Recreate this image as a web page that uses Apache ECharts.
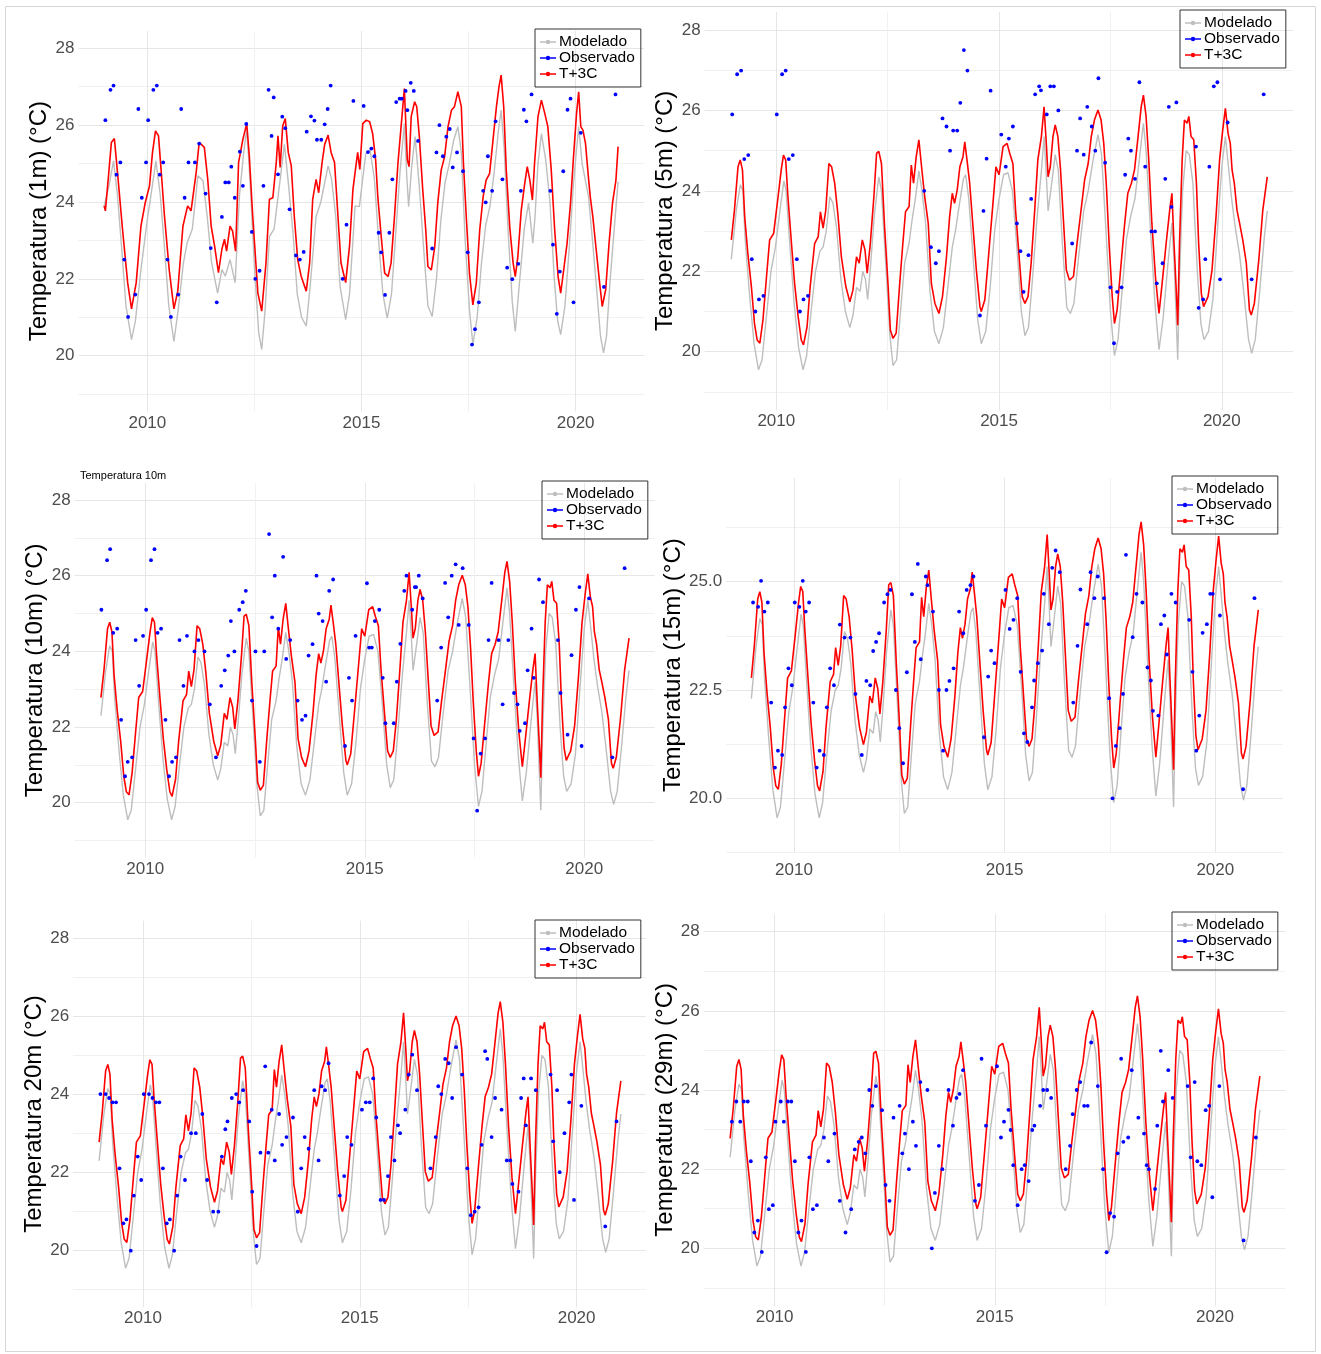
<!DOCTYPE html>
<html><head><meta charset="utf-8">
<script src="https://cdn.jsdelivr.net/npm/echarts@6/dist/echarts.min.js"></script>
<style>html,body{margin:0;padding:0;background:#fff}#c{width:1321px;height:1354px}</style>
</head><body><div id="c"></div>
<script>
// ---------- tick labels ----------
const xTickLabels = [2010, 2015, 2020];
const yTickLabels = [20, 22, 24, 26, 28];
const yTickLabels15 = [20, 22.5, 25];
const seriesNames = ['Modelado', 'Observado', 'T+3C'];

// ---------- 1 m ----------
const model1m = [[2008.99,23.9],[2009.1,24.4],[2009.21,25.07],[2009.3,24.2],[2009.4,22.8],[2009.5,21.3],[2009.63,20.42],[2009.72,20.9],[2009.85,22.24],[2010.0,23.55],[2010.1,24.3],[2010.2,25.07],[2010.3,24.2],[2010.4,22.8],[2010.5,21.3],[2010.62,20.37],[2010.72,21.2],[2010.84,22.4],[2010.93,22.94],[2011.05,23.3],[2011.18,24.68],[2011.3,24.55],[2011.4,23.6],[2011.5,22.42],[2011.64,21.63],[2011.74,22.24],[2011.82,22.07],[2011.93,22.5],[2012.05,21.9],[2012.15,24.16],[2012.25,25.3],[2012.32,25.9],[2012.4,24.5],[2012.5,22.3],[2012.6,20.6],[2012.67,20.16],[2012.75,21.2],[2012.85,23.1],[2012.96,23.3],[2013.08,24.4],[2013.2,25.5],[2013.3,24.4],[2013.4,23.2],[2013.5,21.6],[2013.6,21.0],[2013.71,20.77],[2013.8,21.8],[2013.94,23.63],[2014.05,24.0],[2014.22,24.94],[2014.3,24.6],[2014.4,23.6],[2014.5,21.8],[2014.63,20.94],[2014.72,21.6],[2014.85,23.9],[2014.95,23.88],[2015.1,25.26],[2015.2,25.35],[2015.3,24.6],[2015.4,23.0],[2015.5,21.6],[2015.6,20.98],[2015.7,21.6],[2015.8,23.2],[2015.9,24.8],[2016.0,26.04],[2016.06,24.6],[2016.1,23.88],[2016.17,24.9],[2016.25,25.7],[2016.35,24.4],[2016.45,22.8],[2016.55,21.3],[2016.65,21.02],[2016.75,22.0],[2016.85,23.5],[2016.95,24.5],[2017.05,25.0],[2017.15,25.6],[2017.25,25.96],[2017.33,25.3],[2017.42,23.0],[2017.52,21.2],[2017.6,20.29],[2017.7,21.0],[2017.8,22.4],[2017.9,23.4],[2018.0,23.9],[2018.1,24.8],[2018.2,25.9],[2018.26,26.39],[2018.33,25.4],[2018.42,23.3],[2018.52,21.4],[2018.59,20.63],[2018.68,21.8],[2018.8,23.3],[2018.9,23.97],[2019.0,22.93],[2019.05,23.6],[2019.12,25.0],[2019.2,25.78],[2019.3,25.1],[2019.4,24.0],[2019.5,22.0],[2019.58,20.9],[2019.65,20.55],[2019.75,21.3],[2019.85,22.8],[2019.95,24.5],[2020.07,25.96],[2020.15,25.0],[2020.3,24.14],[2020.4,22.9],[2020.5,21.6],[2020.58,20.5],[2020.65,20.07],[2020.72,20.5],[2020.8,21.9],[2020.9,23.3],[2020.99,24.53]];
const t3c1m = [[2008.99,23.9],[2009.02,23.77],[2009.1,24.77],[2009.16,25.55],[2009.23,25.65],[2009.31,24.68],[2009.42,23.29],[2009.54,21.9],[2009.63,21.22],[2009.74,21.9],[2009.85,23.37],[2009.95,23.98],[2010.05,24.42],[2010.12,25.29],[2010.19,25.85],[2010.26,25.72],[2010.32,24.85],[2010.4,23.63],[2010.51,22.24],[2010.62,21.22],[2010.71,21.68],[2010.83,23.37],[2010.94,23.9],[2011.02,23.77],[2011.14,24.77],[2011.21,25.55],[2011.33,25.42],[2011.41,24.59],[2011.49,23.37],[2011.57,22.85],[2011.66,22.16],[2011.74,22.77],[2011.8,23.03],[2011.85,22.72],[2011.93,23.37],[2011.99,23.24],[2012.06,22.72],[2012.13,25.03],[2012.23,25.63],[2012.32,26.04],[2012.38,25.2],[2012.46,23.63],[2012.58,21.63],[2012.67,21.16],[2012.77,22.42],[2012.85,24.07],[2012.93,24.11],[2013.01,25.03],[2013.05,25.72],[2013.1,24.9],[2013.16,25.98],[2013.22,26.17],[2013.29,25.29],[2013.36,24.94],[2013.43,23.63],[2013.51,22.5],[2013.59,22.07],[2013.71,21.68],[2013.79,22.42],[2013.86,24.07],[2013.94,24.59],[2014.0,24.24],[2014.08,25.03],[2014.14,25.5],[2014.22,25.74],[2014.29,25.29],[2014.37,25.03],[2014.45,23.63],[2014.52,22.42],[2014.63,21.9],[2014.72,22.85],[2014.8,24.33],[2014.91,25.29],[2014.96,24.85],[2015.03,26.04],[2015.11,26.13],[2015.19,26.09],[2015.26,25.78],[2015.33,25.09],[2015.38,24.14],[2015.46,23.1],[2015.54,22.15],[2015.62,22.06],[2015.69,22.41],[2015.77,23.62],[2015.85,25.0],[2015.93,26.04],[2016.0,26.95],[2016.07,25.09],[2016.11,24.92],[2016.16,26.22],[2016.24,26.61],[2016.29,26.48],[2016.35,25.7],[2016.43,24.31],[2016.5,23.27],[2016.55,22.32],[2016.63,22.23],[2016.71,22.84],[2016.78,23.97],[2016.86,24.83],[2016.94,25.18],[2017.02,25.96],[2017.1,26.39],[2017.17,26.48],[2017.25,26.87],[2017.33,26.48],[2017.38,25.0],[2017.45,23.53],[2017.52,22.15],[2017.6,21.32],[2017.68,21.89],[2017.76,23.27],[2017.84,24.14],[2017.91,24.57],[2017.99,24.74],[2018.07,25.61],[2018.15,26.48],[2018.21,27.0],[2018.26,27.3],[2018.32,26.48],[2018.38,24.83],[2018.46,23.36],[2018.54,22.41],[2018.59,22.06],[2018.65,22.58],[2018.73,23.79],[2018.81,24.48],[2018.87,24.92],[2018.93,24.57],[2018.99,24.05],[2019.04,25.0],[2019.12,26.22],[2019.2,26.65],[2019.28,26.3],[2019.35,25.96],[2019.43,24.83],[2019.51,23.27],[2019.59,22.06],[2019.65,21.63],[2019.72,22.23],[2019.8,22.93],[2019.88,23.97],[2019.95,25.18],[2020.02,26.3],[2020.07,26.87],[2020.12,25.96],[2020.17,25.87],[2020.23,25.52],[2020.29,24.74],[2020.34,24.14],[2020.4,23.62],[2020.48,22.75],[2020.56,21.89],[2020.62,21.28],[2020.7,21.71],[2020.78,22.93],[2020.86,23.97],[2020.94,24.57],[2020.99,25.44]];
const obs1m = [[2009.02,26.13],[2009.14,26.92],[2009.21,27.03],[2009.28,24.71],[2009.37,25.03],[2009.46,22.5],[2009.55,21.01],[2009.72,21.59],[2009.79,26.42],[2009.87,24.11],[2009.97,25.03],[2010.02,26.13],[2010.14,26.92],[2010.22,27.03],[2010.29,24.71],[2010.37,25.03],[2010.47,22.5],[2010.55,21.01],[2010.72,21.59],[2010.79,26.42],[2010.87,24.11],[2010.96,25.03],[2011.11,25.03],[2011.21,25.52],[2011.36,24.22],[2011.48,22.8],[2011.62,21.39],[2011.74,23.61],[2011.82,24.51],[2011.9,24.51],[2011.96,24.92],[2012.04,24.11],[2012.16,25.31],[2012.23,24.42],[2012.31,26.03],[2012.44,23.22],[2012.52,22.0],[2012.62,22.21],[2012.71,24.42],[2012.83,26.92],[2012.9,25.72],[2012.95,26.72],[2013.05,24.72],[2013.15,26.22],[2013.22,25.92],[2013.32,23.81],[2013.47,22.61],[2013.56,22.5],[2013.65,22.7],[2013.72,25.83],[2013.82,26.23],[2013.9,26.12],[2013.96,25.62],[2014.06,25.62],[2014.14,26.02],[2014.21,26.42],[2014.28,27.03],[2014.56,22.0],[2014.65,23.41],[2014.81,26.63],[2015.05,26.5],[2015.15,25.3],[2015.23,25.39],[2015.3,25.19],[2015.4,23.2],[2015.46,22.69],[2015.55,21.58],[2015.65,23.2],[2015.72,24.59],[2015.81,26.6],[2015.89,26.69],[2015.94,26.69],[2016.03,26.89],[2016.07,26.39],[2016.15,27.1],[2016.22,26.89],[2016.32,25.59],[2016.65,22.79],[2016.75,25.29],[2016.82,26.0],[2016.9,25.19],[2016.98,25.7],[2017.06,25.9],[2017.13,24.9],[2017.23,25.29],[2017.37,24.8],[2017.48,22.69],[2017.58,20.29],[2017.65,20.69],[2017.74,21.39],[2017.84,24.29],[2017.9,23.99],[2017.95,25.19],[2018.05,24.29],[2018.13,26.1],[2018.29,24.59],[2018.4,22.29],[2018.52,21.99],[2018.66,22.39],[2018.72,24.29],[2018.79,26.4],[2018.85,26.1],[2018.97,26.8],[2019.41,24.29],[2019.47,22.89],[2019.56,21.09],[2019.63,22.19],[2019.71,24.8],[2019.81,26.4],[2019.88,26.69],[2019.95,21.39],[2020.12,25.8],[2020.66,21.79],[2020.93,26.8]];

// ---------- deeper layers (5m - 29m share nearly identical model curves) ----------
const modelDeep = [[2008.99,22.3],[2009.1,23.5],[2009.19,24.15],[2009.25,24.0],[2009.3,22.8],[2009.4,21.4],[2009.5,20.2],[2009.6,19.55],[2009.68,19.8],[2009.78,20.9],[2009.88,22.0],[2009.98,22.6],[2010.08,23.5],[2010.17,24.25],[2010.22,24.0],[2010.3,22.7],[2010.4,21.2],[2010.5,20.1],[2010.6,19.55],[2010.68,19.9],[2010.78,21.0],[2010.88,22.0],[2010.98,22.5],[2011.05,22.6],[2011.12,23.0],[2011.2,23.85],[2011.27,23.7],[2011.35,23.1],[2011.45,21.8],[2011.55,21.0],[2011.65,20.6],[2011.72,20.9],[2011.8,21.6],[2011.88,21.5],[2011.94,22.0],[2012.0,21.8],[2012.05,21.3],[2012.12,22.2],[2012.2,23.4],[2012.3,24.35],[2012.36,24.0],[2012.45,22.3],[2012.55,20.4],[2012.62,19.65],[2012.7,19.8],[2012.78,20.9],[2012.88,22.2],[2012.98,22.7],[2013.05,23.3],[2013.12,23.8],[2013.2,24.5],[2013.27,24.0],[2013.35,23.2],[2013.45,21.5],[2013.55,20.5],[2013.65,20.2],[2013.75,20.6],[2013.85,21.6],[2013.95,22.6],[2014.02,23.0],[2014.1,23.6],[2014.2,24.3],[2014.25,24.4],[2014.32,23.8],[2014.42,22.3],[2014.52,20.8],[2014.6,20.2],[2014.7,20.5],[2014.8,21.6],[2014.9,23.0],[2015.0,23.8],[2015.1,24.4],[2015.2,24.45],[2015.3,24.0],[2015.4,22.6],[2015.5,21.0],[2015.58,20.4],[2015.66,20.6],[2015.75,21.8],[2015.85,23.3],[2015.95,24.5],[2016.01,25.35],[2016.06,24.4],[2016.1,23.5],[2016.16,24.0],[2016.26,24.9],[2016.33,24.5],[2016.42,22.7],[2016.52,21.1],[2016.6,20.95],[2016.68,21.2],[2016.78,22.3],[2016.9,23.5],[2017.0,24.0],[2017.1,24.7],[2017.22,25.4],[2017.3,24.9],[2017.4,23.0],[2017.5,21.0],[2017.59,19.9],[2017.67,20.3],[2017.76,21.5],[2017.86,22.8],[2017.96,23.4],[2018.05,23.8],[2018.15,24.8],[2018.24,25.68],[2018.3,25.0],[2018.4,23.0],[2018.5,21.2],[2018.59,20.05],[2018.68,20.8],[2018.8,22.3],[2018.88,23.2],[2018.93,22.2],[2018.99,20.4],[2019.01,19.8],[2019.05,21.8],[2019.12,24.0],[2019.2,25.0],[2019.27,24.9],[2019.35,24.2],[2019.45,22.0],[2019.53,20.7],[2019.6,20.3],[2019.7,20.5],[2019.8,21.3],[2019.9,23.0],[2020.0,24.6],[2020.08,25.35],[2020.15,24.6],[2020.22,23.8],[2020.3,23.1],[2020.4,22.4],[2020.5,21.4],[2020.6,20.3],[2020.67,19.96],[2020.75,20.3],[2020.85,21.5],[2020.95,22.8],[2021.02,23.5]];
const t3cDeep = [[2008.99,22.78],[2009.06,23.52],[2009.14,24.6],[2009.19,24.77],[2009.24,24.52],[2009.29,23.36],[2009.36,22.45],[2009.44,21.62],[2009.51,20.7],[2009.57,20.29],[2009.63,20.21],[2009.7,20.79],[2009.78,21.87],[2009.85,22.78],[2009.94,22.94],[2010.04,23.86],[2010.11,24.52],[2010.16,24.89],[2010.21,24.77],[2010.26,23.86],[2010.34,22.69],[2010.41,21.7],[2010.49,20.87],[2010.56,20.29],[2010.61,20.17],[2010.69,20.62],[2010.76,21.62],[2010.86,22.69],[2010.94,22.86],[2010.99,23.48],[2011.05,23.07],[2011.11,23.52],[2011.18,24.68],[2011.24,24.6],[2011.31,24.19],[2011.38,23.44],[2011.46,22.36],[2011.56,21.62],[2011.65,21.24],[2011.72,21.53],[2011.8,22.36],[2011.86,22.2],[2011.93,22.78],[2011.99,22.53],[2012.04,21.95],[2012.11,22.69],[2012.19,23.86],[2012.25,24.93],[2012.3,24.98],[2012.36,24.68],[2012.43,23.11],[2012.51,21.62],[2012.56,20.54],[2012.62,20.33],[2012.69,20.46],[2012.77,21.7],[2012.84,22.69],[2012.9,23.48],[2012.98,23.61],[2013.03,24.64],[2013.08,24.19],[2013.14,24.85],[2013.2,25.27],[2013.26,24.6],[2013.33,23.86],[2013.41,23.19],[2013.48,21.7],[2013.56,21.2],[2013.65,20.95],[2013.73,21.37],[2013.82,22.36],[2013.89,23.36],[2013.95,23.94],[2014.0,23.69],[2014.06,24.02],[2014.12,24.6],[2014.19,24.85],[2014.23,25.22],[2014.28,24.77],[2014.34,24.19],[2014.42,23.03],[2014.49,22.03],[2014.57,21.12],[2014.6,21.0],[2014.68,21.29],[2014.75,22.2],[2014.85,23.52],[2014.93,24.6],[2015.0,24.4],[2015.09,25.1],[2015.18,25.18],[2015.24,24.93],[2015.31,24.68],[2015.37,23.52],[2015.45,22.36],[2015.52,21.37],[2015.58,21.2],[2015.65,21.37],[2015.72,22.2],[2015.8,23.52],[2015.87,24.77],[2015.95,25.35],[2016.01,26.09],[2016.06,25.18],[2016.1,24.35],[2016.15,24.6],[2016.21,25.35],[2016.26,25.64],[2016.32,25.35],[2016.38,24.52],[2016.44,23.36],[2016.51,22.03],[2016.58,21.78],[2016.67,21.87],[2016.75,22.69],[2016.85,23.61],[2016.92,24.27],[2017.0,24.68],[2017.07,25.35],[2017.14,25.76],[2017.22,26.01],[2017.29,25.76],[2017.35,25.18],[2017.41,24.1],[2017.47,22.69],[2017.54,21.37],[2017.59,20.7],[2017.65,21.04],[2017.74,22.2],[2017.82,23.19],[2017.89,23.94],[2017.97,24.19],[2018.04,24.52],[2018.12,25.35],[2018.19,26.09],[2018.24,26.38],[2018.3,25.85],[2018.36,24.77],[2018.43,23.19],[2018.51,21.87],[2018.59,20.95],[2018.66,21.7],[2018.75,22.69],[2018.83,23.52],[2018.88,23.94],[2018.92,22.86],[2018.98,21.45],[2019.01,20.66],[2019.05,22.69],[2019.11,24.77],[2019.16,25.76],[2019.22,25.68],[2019.26,25.85],[2019.31,25.35],[2019.37,25.27],[2019.43,24.19],[2019.48,22.69],[2019.54,21.45],[2019.59,21.12],[2019.69,21.37],[2019.78,22.03],[2019.87,23.36],[2019.95,24.77],[2020.02,25.51],[2020.08,26.05],[2020.14,25.43],[2020.19,25.18],[2020.23,24.52],[2020.28,24.19],[2020.34,23.52],[2020.4,23.19],[2020.47,22.78],[2020.55,22.2],[2020.62,21.04],[2020.66,20.91],[2020.73,21.2],[2020.83,22.28],[2020.92,23.52],[2021.02,24.35]];

const obs5m = [[2009.01,25.9],[2009.12,26.9],[2009.21,26.99],[2009.28,24.79],[2009.37,24.89],[2009.45,22.3],[2009.53,21.0],[2009.61,21.3],[2009.71,21.39],[2010.01,25.9],[2010.13,26.9],[2010.21,26.99],[2010.28,24.79],[2010.37,24.89],[2010.46,22.3],[2010.53,21.0],[2010.61,21.3],[2010.71,21.39],[2013.32,24.0],[2013.47,22.6],[2013.58,22.2],[2013.65,22.5],[2013.73,25.8],[2013.82,25.6],[2013.9,25.0],[2013.97,25.5],[2014.06,25.5],[2014.13,26.19],[2014.21,27.5],[2014.29,26.99],[2014.57,20.9],[2014.65,23.5],[2014.72,24.8],[2014.81,26.49],[2015.05,25.4],[2015.15,24.6],[2015.22,25.3],[2015.31,25.6],[2015.4,23.19],[2015.48,22.5],[2015.55,21.49],[2015.66,22.4],[2015.72,23.8],[2015.81,26.4],[2015.9,26.6],[2015.94,26.5],[2016.07,25.9],[2016.15,26.6],[2016.23,26.6],[2016.33,26.0],[2016.64,22.69],[2016.75,25.0],[2016.82,25.8],[2016.9,24.9],[2016.98,26.09],[2017.08,25.6],[2017.16,25.0],[2017.23,26.8],[2017.38,24.7],[2017.5,21.6],[2017.58,20.21],[2017.65,21.49],[2017.75,21.6],[2017.83,24.4],[2017.9,25.3],[2017.96,25.0],[2018.05,24.3],[2018.15,26.7],[2018.28,24.6],[2018.42,22.99],[2018.5,22.99],[2018.54,21.7],[2018.67,22.2],[2018.73,24.3],[2018.81,26.09],[2018.87,23.6],[2018.98,26.2],[2019.42,25.1],[2019.48,21.09],[2019.58,21.3],[2019.63,22.3],[2019.72,24.6],[2019.82,26.6],[2019.9,26.7],[2019.96,21.8],[2020.13,25.7],[2020.67,21.8],[2020.94,26.4]];
const obs10m = [[2009.0,25.1],[2009.13,26.41],[2009.2,26.7],[2009.27,24.49],[2009.36,24.6],[2009.45,22.19],[2009.54,20.7],[2009.6,21.08],[2009.7,21.2],[2009.78,24.3],[2009.86,23.09],[2009.95,24.41],[2010.02,25.1],[2010.13,26.41],[2010.21,26.7],[2010.28,24.49],[2010.36,24.6],[2010.46,22.19],[2010.54,20.7],[2010.61,21.08],[2010.7,21.2],[2010.78,24.3],[2010.87,23.09],[2010.95,24.41],[2011.12,24.0],[2011.21,24.3],[2011.35,24.0],[2011.47,22.6],[2011.61,21.2],[2011.73,23.09],[2011.81,23.5],[2011.89,23.89],[2011.95,24.8],[2012.03,24.0],[2012.14,25.1],[2012.22,25.3],[2012.29,25.6],[2012.43,22.7],[2012.51,24.0],[2012.61,21.08],[2012.71,24.0],[2012.82,27.1],[2012.89,24.9],[2012.95,26.0],[2013.03,24.6],[2013.14,26.5],[2013.21,23.8],[2013.3,24.3],[2013.47,22.7],[2013.57,22.19],[2013.65,22.3],[2013.72,23.89],[2013.81,24.19],[2013.9,26.0],[2013.95,25.0],[2014.04,24.8],[2014.12,23.2],[2014.19,25.6],[2014.28,25.9],[2014.55,21.5],[2014.64,23.3],[2014.71,22.7],[2014.79,24.41],[2015.05,25.8],[2015.1,24.1],[2015.16,24.1],[2015.23,24.8],[2015.33,25.1],[2015.41,23.3],[2015.47,22.1],[2015.66,22.1],[2015.73,23.2],[2015.81,24.2],[2015.9,25.6],[2015.95,26.0],[2016.08,25.1],[2016.14,25.7],[2016.17,25.7],[2016.23,26.0],[2016.32,25.4],[2016.65,22.7],[2016.74,24.1],[2016.83,25.81],[2016.9,24.9],[2016.98,26.0],[2017.07,26.3],[2017.14,24.7],[2017.23,26.2],[2017.37,24.7],[2017.48,21.7],[2017.56,19.79],[2017.64,21.3],[2017.74,21.7],[2017.82,24.3],[2017.89,25.81],[2018.05,24.3],[2018.14,22.6],[2018.27,24.3],[2018.4,22.9],[2018.48,22.6],[2018.53,21.9],[2018.65,22.1],[2018.71,23.5],[2018.8,24.6],[2018.85,23.3],[2018.97,25.9],[2019.06,25.3],[2019.4,24.3],[2019.46,22.9],[2019.62,21.8],[2019.71,23.9],[2019.81,25.1],[2019.89,25.7],[2019.94,21.5],[2020.11,25.4],[2020.64,21.2],[2020.92,26.2]];
const obs15m = [[2009.03,24.52],[2009.15,24.42],[2009.22,25.02],[2009.3,24.31],[2009.38,24.52],[2009.46,22.21],[2009.55,20.71],[2009.62,21.1],[2009.72,21.0],[2009.79,22.1],[2009.87,23.0],[2009.95,22.61],[2010.02,24.52],[2010.13,24.42],[2010.21,25.02],[2010.28,24.31],[2010.36,24.52],[2010.46,22.21],[2010.54,20.71],[2010.61,21.1],[2010.71,21.0],[2010.78,22.1],[2010.86,23.0],[2010.95,22.61],[2011.09,24.01],[2011.2,23.71],[2011.34,23.71],[2011.46,22.41],[2011.61,21.0],[2011.72,22.71],[2011.81,22.61],[2011.88,23.4],[2011.95,23.61],[2012.02,23.81],[2012.14,24.52],[2012.22,24.71],[2012.29,24.81],[2012.42,22.5],[2012.5,21.62],[2012.59,20.81],[2012.68,22.91],[2012.8,24.71],[2012.87,23.61],[2012.94,25.41],[2013.01,23.21],[2013.13,25.12],[2013.17,24.92],[2013.3,24.31],[2013.44,22.5],[2013.54,21.1],[2013.62,22.5],[2013.69,22.71],[2013.79,23.0],[2013.92,24.31],[2014.02,23.81],[2014.1,24.81],[2014.19,24.92],[2014.26,25.12],[2014.51,21.41],[2014.61,22.81],[2014.68,23.41],[2014.76,23.12],[2015.02,24.81],[2015.12,23.91],[2015.21,24.12],[2015.3,24.62],[2015.38,22.92],[2015.46,21.5],[2015.54,21.3],[2015.65,22.1],[2015.7,22.72],[2015.79,23.12],[2015.89,23.41],[2015.93,24.72],[2016.05,24.02],[2016.13,25.32],[2016.21,25.72],[2016.31,25.22],[2016.63,22.21],[2016.73,23.52],[2016.8,24.82],[2016.96,24.02],[2017.04,25.22],[2017.13,24.62],[2017.21,25.12],[2017.36,24.62],[2017.48,22.31],[2017.56,20.0],[2017.64,21.21],[2017.73,21.62],[2017.81,22.41],[2017.88,25.62],[2018.04,23.72],[2018.13,24.72],[2018.27,24.52],[2018.39,23.02],[2018.47,22.72],[2018.52,22.02],[2018.65,21.91],[2018.71,24.02],[2018.79,24.22],[2018.85,23.32],[2018.96,24.72],[2019.06,24.52],[2019.38,24.12],[2019.46,22.92],[2019.55,21.1],[2019.62,21.91],[2019.7,23.82],[2019.8,24.02],[2019.88,24.72],[2019.94,24.72],[2020.11,24.22],[2020.66,20.21],[2020.93,24.62]];
const obs20m = [[2009.02,24.01],[2009.14,24.01],[2009.22,23.91],[2009.3,23.8],[2009.38,23.8],[2009.46,22.11],[2009.55,20.7],[2009.62,20.8],[2009.72,20.0],[2009.79,21.41],[2009.88,22.41],[2009.96,21.81],[2010.02,24.01],[2010.14,24.01],[2010.22,23.91],[2010.3,23.8],[2010.38,23.8],[2010.46,22.11],[2010.55,20.7],[2010.62,20.8],[2010.72,20.0],[2010.79,21.41],[2010.87,22.41],[2010.97,21.81],[2011.11,23.01],[2011.22,23.01],[2011.37,23.5],[2011.48,21.81],[2011.62,21.0],[2011.74,21.0],[2011.82,22.41],[2011.9,23.11],[2011.95,23.31],[2012.05,23.91],[2012.15,24.01],[2012.22,23.8],[2012.31,24.11],[2012.45,23.31],[2012.52,21.51],[2012.62,20.12],[2012.71,22.51],[2012.82,24.72],[2012.89,22.51],[2012.97,23.61],[2013.04,22.31],[2013.14,23.5],[2013.21,22.71],[2013.31,22.91],[2013.46,23.41],[2013.57,21.0],[2013.65,22.11],[2013.73,22.91],[2013.82,22.61],[2013.95,24.11],[2014.05,22.31],[2014.12,24.21],[2014.2,24.11],[2014.28,24.8],[2014.54,21.41],[2014.64,21.91],[2014.71,22.91],[2014.81,22.71],[2015.05,23.61],[2015.14,23.8],[2015.23,23.8],[2015.31,24.41],[2015.38,23.41],[2015.48,21.3],[2015.56,21.3],[2015.65,21.91],[2015.72,22.91],[2015.8,22.31],[2015.88,23.21],[2015.93,23.01],[2016.05,23.61],[2016.13,24.51],[2016.21,25.02],[2016.32,24.11],[2016.63,22.11],[2016.75,22.91],[2016.81,24.21],[2016.88,24.01],[2016.97,24.91],[2017.05,24.8],[2017.13,23.91],[2017.22,25.21],[2017.36,24.51],[2017.48,22.11],[2017.56,20.91],[2017.65,21.0],[2017.74,21.11],[2017.81,22.71],[2017.89,25.11],[2017.94,24.91],[2018.04,22.91],[2018.12,23.91],[2018.27,23.61],[2018.39,22.31],[2018.47,22.31],[2018.52,21.71],[2018.66,21.51],[2018.72,23.91],[2018.78,24.41],[2018.83,23.21],[2018.95,24.41],[2019.06,24.11],[2019.4,24.51],[2019.46,22.8],[2019.55,24.11],[2019.61,22.01],[2019.72,23.01],[2019.83,23.8],[2019.88,24.51],[2019.94,21.3],[2020.11,23.71],[2020.66,20.62],[2020.92,23.31]];
const obs29m = [[2009.03,23.2],[2009.13,23.71],[2009.22,23.2],[2009.3,23.71],[2009.39,23.71],[2009.46,22.2],[2009.54,20.4],[2009.62,20.7],[2009.71,19.91],[2009.8,22.3],[2009.87,20.99],[2009.96,21.09],[2010.02,23.2],[2010.14,23.71],[2010.21,23.2],[2010.3,23.71],[2010.38,23.71],[2010.46,22.2],[2010.54,20.4],[2010.61,20.7],[2010.71,19.91],[2010.79,22.3],[2010.87,20.99],[2010.96,21.09],[2011.12,22.8],[2011.22,22.2],[2011.36,22.9],[2011.48,21.2],[2011.61,20.4],[2011.74,20.99],[2011.82,22.5],[2011.91,22.69],[2011.98,22.8],[2012.06,22.4],[2012.15,24.0],[2012.22,23.6],[2012.3,24.1],[2012.44,23.49],[2012.52,21.6],[2012.61,21.2],[2012.7,23.3],[2012.84,23.6],[2012.9,22.4],[2012.96,22.9],[2013.05,22.0],[2013.14,23.2],[2013.21,22.59],[2013.31,24.2],[2013.47,24.0],[2013.57,20.0],[2013.64,21.4],[2013.73,22.59],[2013.81,22.0],[2013.95,24.0],[2014.05,23.1],[2014.13,23.8],[2014.2,23.9],[2014.28,24.5],[2014.55,21.2],[2014.64,21.6],[2014.7,24.79],[2014.8,23.1],[2015.05,24.6],[2015.14,22.8],[2015.21,23.2],[2015.31,23.5],[2015.36,22.99],[2015.42,22.1],[2015.52,21.09],[2015.61,22.0],[2015.68,22.1],[2015.77,21.7],[2015.85,22.99],[2015.9,23.1],[2016.03,23.6],[2016.1,24.0],[2016.19,24.0],[2016.28,23.8],[2016.61,22.0],[2016.71,22.59],[2016.77,23.39],[2016.86,24.0],[2016.94,24.2],[2017.03,23.6],[2017.11,23.6],[2017.19,25.2],[2017.34,24.1],[2017.46,22.0],[2017.54,19.9],[2017.62,20.89],[2017.71,20.8],[2017.79,22.4],[2017.87,24.79],[2017.92,22.69],[2018.03,22.8],[2018.11,24.5],[2018.26,23.3],[2018.39,22.9],[2018.45,22.1],[2018.5,22.0],[2018.64,21.5],[2018.69,23.1],[2018.77,24.99],[2018.82,23.71],[2018.94,24.5],[2019.04,23.8],[2019.38,24.1],[2019.45,22.3],[2019.54,24.2],[2019.6,22.2],[2019.69,22.1],[2019.79,23.49],[2019.87,23.6],[2019.94,21.29],[2020.1,24.1],[2020.65,20.2],[2020.93,22.8]];

// ---------- layout ----------
const FONT = '"Liberation Sans", Arial, Helvetica, sans-serif';
const panels = [
  {name:'Temperatura (1m) (°C)',  model:model1m,   t3c:t3c1m,   obs:obs1m,  g:[78.4,31,565.8,380.4],   lg:[535,29],   gap:26, p15:false, xm:3},
  {name:'Temperatura (5m) (°C)',  model:modelDeep, t3c:t3cDeep, obs:obs5m,  g:[704.6,11.9,588.5,398.1], lg:[1180,10],  gap:25, p15:false, xm:3},
  {name:'Temperatura (10m) (°C)', model:modelDeep, t3c:t3cDeep, obs:obs10m, g:[74.6,483,579.9,374.6],  lg:[542,481],  gap:27, p15:false, xm:3},
  {name:'Temperatura (15m) (°C)', model:modelDeep, t3c:t3cDeep, obs:obs15m, g:[726.1,477.7,556.6,374.8], lg:[1172,476], gap:39, p15:true, xm:9},
  {name:'Temperatura 20m (°C)',   model:modelDeep, t3c:t3cDeep, obs:obs20m, g:[73.1,920.7,572.9,386.6], lg:[535,920],  gap:26, p15:false, xm:3},
  {name:'Temperatura (29m) (°C)', model:modelDeep, t3c:t3cDeep, obs:obs29m, g:[703.7,913.9,581.7,391.8], lg:[1172,912], gap:24, p15:false, xm:3}
];

const isIn = (arr, v) => arr.some(t => Math.abs(t - v) < 1e-6);
const keyIcon = 'path://M0,0L0.01,0L0,0.01ZM0,4.25L16,4.25L16,5.75L0,5.75ZM10.2,5A2.2,2.2,0,1,1,5.8,5A2.2,2.2,0,1,1,10.2,5ZM0,10L0.01,10L0,9.99Z';

const grid = [], xAxis = [], yAxis = [], series = [], legend = [];
panels.forEach((p, i) => {
  grid.push({left:p.g[0], top:p.g[1], width:p.g[2], height:p.g[3], containLabel:false, outerBoundsMode:'none'});
  xAxis.push({
    gridIndex:i, type:'value', min:2008.39, max:2021.6, splitNumber:3,
    axisLine:{show:false}, axisTick:{show:false},
    axisLabel:{margin:p.xm, color:'#4d4d4d', fontSize:17, fontFamily:FONT,
      formatter: v => isIn(xTickLabels, v) ? String(Math.round(v)) : ''},
    splitLine:{show:true, showMinLine:false, showMaxLine:false, lineStyle:{color:'#e6e6e6', width:1}},
    minorTick:{show:false, splitNumber:2},
    minorSplitLine:{show:true, lineStyle:{color:'#f1f1f1', width:1}}
  });
  const yBase = {
    gridIndex:i, type:'value', name:p.name, nameLocation:'middle', nameRotate:90, nameGap:p.gap,
    nameTextStyle:{fontSize:24, color:'#000', fontFamily:FONT},
    axisLine:{show:false}, axisTick:{show:false}
  };
  if (p.p15) {
    Object.assign(yBase, {min:18.75, max:27.4, interval:1.25,
      axisLabel:{margin:4, color:'#4d4d4d', fontSize:17, fontFamily:FONT,
        formatter: v => isIn(yTickLabels15, v) ? v.toFixed(1) : ''},
      splitLine:{show:true, showMinLine:true, showMaxLine:false, lineStyle:{color:['#f1f1f1','#e6e6e6'], width:1}}
    });
  } else {
    Object.assign(yBase, {min:18.55, max:28.45, splitNumber:5,
      axisLabel:{margin:4, color:'#4d4d4d', fontSize:17, fontFamily:FONT,
        formatter: v => isIn(yTickLabels, v) ? String(Math.round(v)) : ''},
      splitLine:{show:true, showMinLine:false, showMaxLine:false, lineStyle:{color:'#e6e6e6', width:1}},
      minorTick:{show:false, splitNumber:2},
      minorSplitLine:{show:true, lineStyle:{color:'#f1f1f1', width:1}}
    });
  }
  yAxis.push(yBase);
  series.push({name:seriesNames[0], type:'line', xAxisIndex:i, yAxisIndex:i, data:p.model, symbol:'none',
    lineStyle:{color:'#bebebe', width:1.4}, itemStyle:{color:'#bebebe'}, z:2, silent:true});
  series.push({name:seriesNames[2], type:'line', xAxisIndex:i, yAxisIndex:i, data:p.t3c, symbol:'none',
    lineStyle:{color:'#ff0000', width:1.6}, itemStyle:{color:'#ff0000'}, z:3, silent:true});
  series.push({name:seriesNames[1], type:'scatter', xAxisIndex:i, yAxisIndex:i, data:p.obs, symbol:'circle', symbolSize:3.8,
    itemStyle:{color:'#0000ff', opacity:1}, z:4, silent:true});
  legend.push({left:p.lg[0], top:p.lg[1], orient:'vertical', itemGap:0, itemWidth:16, itemHeight:10,
    icon:keyIcon, selectedMode:false, borderColor:'#333', borderWidth:1, padding:[5,6,5,5],
    itemStyle:{borderWidth:0},
    textStyle:{fontSize:15.5, color:'#000', fontFamily:FONT, lineHeight:15, padding:[0,0,0,-2]},
    data:seriesNames.slice()});
});

const chart = echarts.init(document.getElementById('c'), null, {renderer:'canvas'});
chart.setOption({
  animation:false,
  backgroundColor:'#ffffff',
  title:{text:'Temperatura 10m', left:75, top:465, textStyle:{fontSize:11, fontWeight:'normal', color:'#000', fontFamily:FONT}},
  graphic:[{type:'rect', silent:true, z:-10, shape:{x:5.5, y:6.5, width:1310, height:1345}, style:{fill:'none', stroke:'#d6d6d6', lineWidth:1}}],
  grid, xAxis, yAxis, series, legend
});
</script>
</body></html>
